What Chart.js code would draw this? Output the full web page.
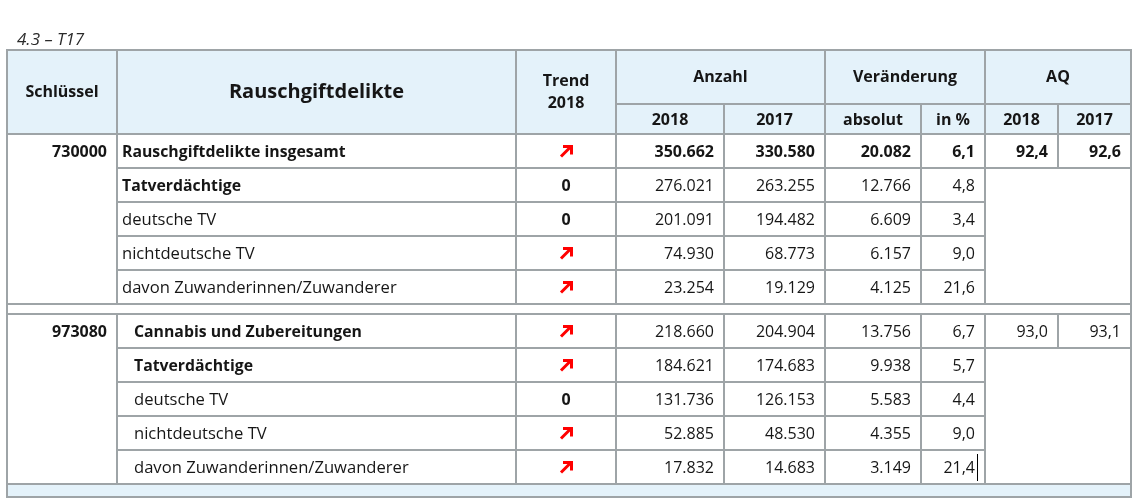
<!DOCTYPE html>
<html><head><meta charset="utf-8">
<script src="https://cdn.jsdelivr.net/npm/chart.js@4/dist/chart.umd.min.js"></script>
<style>html,body{margin:0;padding:0;background:#fff}canvas{display:block}</style>
</head><body>
<canvas id="c" width="1137" height="500"></canvas>
<script>
// ---- data ----
const tableId = "4.3 – T17";
const tableTitle = "Rauschgiftdelikte";
const keys = ["730000", "973080"];
const groups = ["Rauschgiftdelikte insgesamt", "Cannabis und Zubereitungen"];
const subRows = ["Tatverdächtige", "deutsche TV", "nichtdeutsche TV", "davon Zuwanderinnen/Zuwanderer"];
const trend2018 = ["up", "0", "0", "up", "up", "up", "up", "0", "up", "up"];
const anzahl2018 = [350662, 276021, 201091, 74930, 23254, 218660, 184621, 131736, 52885, 17832];
const anzahl2017 = [330580, 263255, 194482, 68773, 19129, 204904, 174683, 126153, 48530, 14683];
const veraenderungAbs = [20082, 12766, 6609, 6157, 4125, 13756, 9938, 5583, 4355, 3149];
const veraenderungPct = [6.1, 4.8, 3.4, 9.0, 21.6, 6.7, 5.7, 4.4, 9.0, 21.4];
const aq2018 = [92.4, 93.0];
const aq2017 = [92.6, 93.1];
const headTop = ["Schlüssel", "Rauschgiftdelikte", "Trend\n2018", "Anzahl", "Veränderung", "AQ"];
const headSub = ["2018", "2017", "absolut", "in %", "2018", "2017"];

// ---- layout (drawing units of the hidden linear scales) ----
const colEdges = [7, 117, 516, 616, 724, 825, 921, 985, 1058, 1131];
const tableTop = 50, headMid = 104, headBottom = 134;
const blockTops = [134, 314];
const rowH = 34;
const footerTop = 484, footerBottom = 497;
const FONT = "'Open Sans', 'Noto Sans', sans-serif";
const LINE = "#9ea4a7";
const HEADBG = "#e4f2fa";
const TXT = "#161616";

function de(n, dec) {
  const s = n.toFixed(dec);
  const p = s.split(".");
  const i = p[0].replace(/\B(?=(\d{3})+(?!\d))/g, ".");
  return p[1] ? i + "," + p[1] : i;
}

const tablePlugin = {
  id: "tablePlugin",
  afterDraw(chart) {
    const ctx = chart.ctx, sx = chart.scales.x, sy = chart.scales.y;
    const X = v => sx.getPixelForValue(v), Y = v => sy.getPixelForValue(v);
    const C = colEdges;
    ctx.save();
    function rect(x1, y1, x2, y2, col) { ctx.fillStyle = col; ctx.fillRect(X(x1), Y(y1), X(x2) - X(x1), Y(y2) - Y(y1)); }
    function hl(x1, x2, y) { ctx.beginPath(); ctx.moveTo(X(x1) - 1, Y(y)); ctx.lineTo(X(x2) + 1, Y(y)); ctx.stroke(); }
    function vl(x, y1, y2) { ctx.beginPath(); ctx.moveTo(X(x), Y(y1)); ctx.lineTo(X(x), Y(y2)); ctx.stroke(); }
    function txt(s, x, y, align, weight, size, style, col) {
      ctx.font = (style || "") + " " + (weight || "normal") + " " + size + "px " + FONT;
      ctx.textAlign = align; ctx.textBaseline = "middle"; ctx.fillStyle = col || TXT;
      ctx.fillText(s, X(x), Y(y));
    }
    function arrow(cx, cy) {
      const x = X(cx), y = Y(cy);
      ctx.save(); ctx.strokeStyle = "#ff0000"; ctx.lineWidth = 3; ctx.lineCap = "butt"; ctx.lineJoin = "miter";
      ctx.beginPath(); ctx.moveTo(x - 5, y + 5.5); ctx.lineTo(x + 4, y - 3.5); ctx.stroke();
      ctx.beginPath(); ctx.moveTo(x - 3, y - 4.5); ctx.lineTo(x + 5.5, y - 4.5); ctx.lineTo(x + 5.5, y + 3.5); ctx.stroke();
      ctx.restore();
    }
    // title
    txt(tableId, 17, 40, "left", "normal", 17, "italic", "#2a2a2a");
    // backgrounds
    rect(C[0], tableTop, C[9], headBottom, HEADBG);
    rect(C[0], footerTop, C[9], footerBottom, HEADBG);
    // header text
    const midc = (a, b) => (C[a] + C[b]) / 2;
    txt(headTop[0], midc(0, 1), 92, "center", "bold", 16);
    txt(headTop[1], midc(1, 2), 92, "center", "bold", 20);
    const tr = headTop[2].split("\n");
    txt(tr[0], midc(2, 3), 81, "center", "bold", 16);
    txt(tr[1], midc(2, 3), 103, "center", "bold", 16);
    txt(headTop[3], midc(3, 5), 77, "center", "bold", 16);
    txt(headTop[4], midc(5, 7), 77, "center", "bold", 16);
    txt(headTop[5], midc(7, 9), 77, "center", "bold", 16);
    for (let i = 0; i < 6; i++) txt(headSub[i], midc(3 + i, 4 + i), 120, "center", "bold", 16);
    // body text
    for (let b = 0; b < 2; b++) {
      const top = blockTops[b];
      const indent = b === 0 ? 5 : 17;
      txt(keys[b], C[1] - 10, top + 18, "right", "bold", 16);
      for (let r = 0; r < 5; r++) {
        const k = b * 5 + r;
        const cy = top + r * rowH + 18;
        const first = r === 0;
        const nameBold = r <= 1;
        const valBold = first && b === 0;
        txt(first ? groups[b] : subRows[r - 1], C[1] + indent, cy, "left", nameBold ? "bold" : "normal", nameBold ? 15.8 : 16.6);
        if (trend2018[k] === "up") arrow(midc(2, 3), cy - 1);
        else txt(trend2018[k], midc(2, 3), cy, "center", "bold", 16);
        const w = valBold ? "bold" : "normal";
        txt(de(anzahl2018[k], 0), C[4] - 10, cy, "right", w, 16);
        txt(de(anzahl2017[k], 0), C[5] - 10, cy, "right", w, 16);
        txt(de(veraenderungAbs[k], 0), C[6] - 10, cy, "right", w, 16);
        txt(de(veraenderungPct[k], 1), C[7] - 10, cy, "right", w, 16);
        if (first) {
          txt(de(aq2018[b], 1), C[8] - 10, cy, "right", w, 16);
          txt(de(aq2017[b], 1), C[9] - 10, cy, "right", w, 16);
        }
      }
    }
    // lines
    ctx.strokeStyle = LINE; ctx.lineWidth = 2;
    // header
    hl(C[3], C[9], headMid);
    [1, 2, 3, 5, 7].forEach(i => vl(C[i], tableTop, headBottom));
    [4, 6, 8].forEach(i => vl(C[i], headMid, headBottom));
    hl(C[0], C[9], headBottom);
    // blocks
    for (let b = 0; b < 2; b++) {
      const top = blockTops[b], bot = top + 5 * rowH;
      [1, 2, 3, 4, 5, 6, 7].forEach(i => vl(C[i], top, bot));
      vl(C[8], top, top + rowH);
      hl(C[1], C[9], top + rowH);
      for (let r = 2; r < 5; r++) hl(C[1], C[7], top + r * rowH);
      hl(C[0], C[9], bot);
    }
    hl(C[0], C[9], blockTops[1]);
    // outer frame
    hl(C[0], C[9], tableTop);
    hl(C[0], C[9], footerBottom);
    vl(C[0], tableTop, footerBottom);
    vl(C[9], tableTop, footerBottom);
    // text cursor seen in source image
    ctx.strokeStyle = "#000"; ctx.lineWidth = 1;
    ctx.beginPath(); ctx.moveTo(X(977) + 0.5, Y(454)); ctx.lineTo(X(977) + 0.5, Y(481)); ctx.stroke();
    ctx.restore();
  }
};

new Chart(document.getElementById("c"), {
  type: "scatter",
  data: { datasets: [{ data: [], pointRadius: 0 }] },
  options: {
    responsive: false, animation: false,
    layout: { padding: 0 },
    plugins: { legend: { display: false }, tooltip: { enabled: false } },
    scales: {
      x: { type: "linear", min: 0, max: 1137, display: false },
      y: { type: "linear", min: 0, max: 500, reverse: true, display: false }
    }
  },
  plugins: [tablePlugin]
});
</script>
</body></html>
